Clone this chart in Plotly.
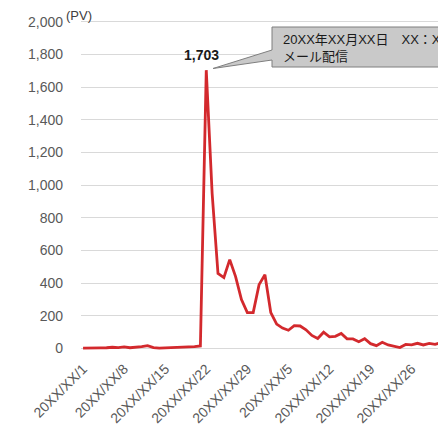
import plotly.graph_objects as go

# daily page views (two months, day 1 = index 0)
dates = [f"20XX/XX/{d}" for d in range(1, 32)] + [f"20XX/XX/{d}" for d in range(1, 32)]
pv = [
    3, 2, 3, 4, 5, 8, 6, 10, 5, 7, 12, 18, 6, 3, 4, 5, 6, 7, 8, 12, 16,
    1703, 950, 459, 434, 544, 440, 300, 220, 220, 391, 452, 220, 150, 125,
    112, 140, 138, 115, 80, 62, 100, 72, 75, 92, 59, 59, 42, 60, 30, 18,
    38, 22, 14, 6, 25, 22, 32, 22, 32, 26, 36,
]
tick_every = 7
y_ticks = list(range(0, 2001, 200))

callout_text = "20XX年XX月XX日　XX：XX<br>メール配信"
unit_text = "(PV)"

FONT = "Liberation Sans, Arial, Noto Sans CJK JP, sans-serif"
W, H = 438, 426
M_L, M_R, M_T, M_B = 81, 0, 20, 75
PLOT_W = W - M_L - M_R
PLOT_H = H - M_T - M_B


def paper_x(px):
    return (px - M_L) / PLOT_W


def paper_y(py):
    return (H - M_B - py) / PLOT_H


x = list(range(len(pv)))
peak_i = pv.index(max(pv))

fig = go.Figure()
fig.add_trace(
    go.Scatter(
        x=x,
        y=pv,
        mode="lines",
        line=dict(color="#d3292d", width=2.8),
        showlegend=False,
        hoverinfo="skip",
    )
)

fig.update_layout(
    width=W,
    height=H,
    margin=dict(l=M_L, r=M_R, t=M_T, b=M_B),
    plot_bgcolor="white",
    paper_bgcolor="white",
    font=dict(family=FONT, size=14, color="#595959"),
    xaxis=dict(
        range=[-0.35, 60.5],
        tickvals=x[::tick_every],
        ticktext=dates[::tick_every],
        tickangle=-45,
        showgrid=False,
        zeroline=False,
        ticks="",
        ticklabelstandoff=6,
        automargin=False,
        tickfont=dict(size=14, color="#595959"),
    ),
    yaxis=dict(
        range=[-15, 2010],
        tickvals=y_ticks,
        tickformat=",d",
        showgrid=True,
        gridcolor="#d9d9d9",
        gridwidth=1,
        zeroline=False,
        ticks="",
        ticklabelstandoff=17,
        automargin=False,
        tickfont=dict(size=14, color="#595959"),
    ),
)

# callout balloon pointing at the peak
bx0, by0, by1 = paper_x(272), paper_y(27), paper_y(67)
bx1 = paper_x(480)
path = (
    f"M {bx0},{by0} L {bx1},{by0} L {bx1},{by1} L {bx0},{by1} "
    f"L {bx0},{paper_y(60)} L {paper_x(213)},{paper_y(68.5)} L {bx0},{paper_y(50)} Z"
)
fig.add_shape(
    type="path",
    path=path,
    xref="paper",
    yref="paper",
    fillcolor="#c9c9c9",
    line=dict(color="#7f7f7f", width=1),
    layer="above",
)
fig.add_annotation(
    x=paper_x(281),
    y=paper_y(47.5),
    xref="paper",
    yref="paper",
    xanchor="left",
    yanchor="middle",
    align="left",
    text=callout_text,
    showarrow=False,
    font=dict(size=13, color="#1a1a1a", family=FONT),
)

# peak value label
fig.add_annotation(
    x=peak_i,
    y=pv[peak_i],
    text=f"<b>{pv[peak_i]:,}</b>",
    showarrow=False,
    xshift=-4.5,
    yshift=15,
    font=dict(size=14, color="#1a1a1a", family=FONT),
)

# unit label
fig.add_annotation(
    x=paper_x(78.5),
    y=paper_y(15),
    xref="paper",
    yref="paper",
    xanchor="center",
    yanchor="middle",
    text=unit_text,
    showarrow=False,
    font=dict(size=13, color="#404040", family=FONT),
)

# page body has a default margin, drop it so the figure sits at the corner
fig.write_html(
    "out.html",
    config={"displayModeBar": False},
    post_script="document.body.style.margin='0';",
)
